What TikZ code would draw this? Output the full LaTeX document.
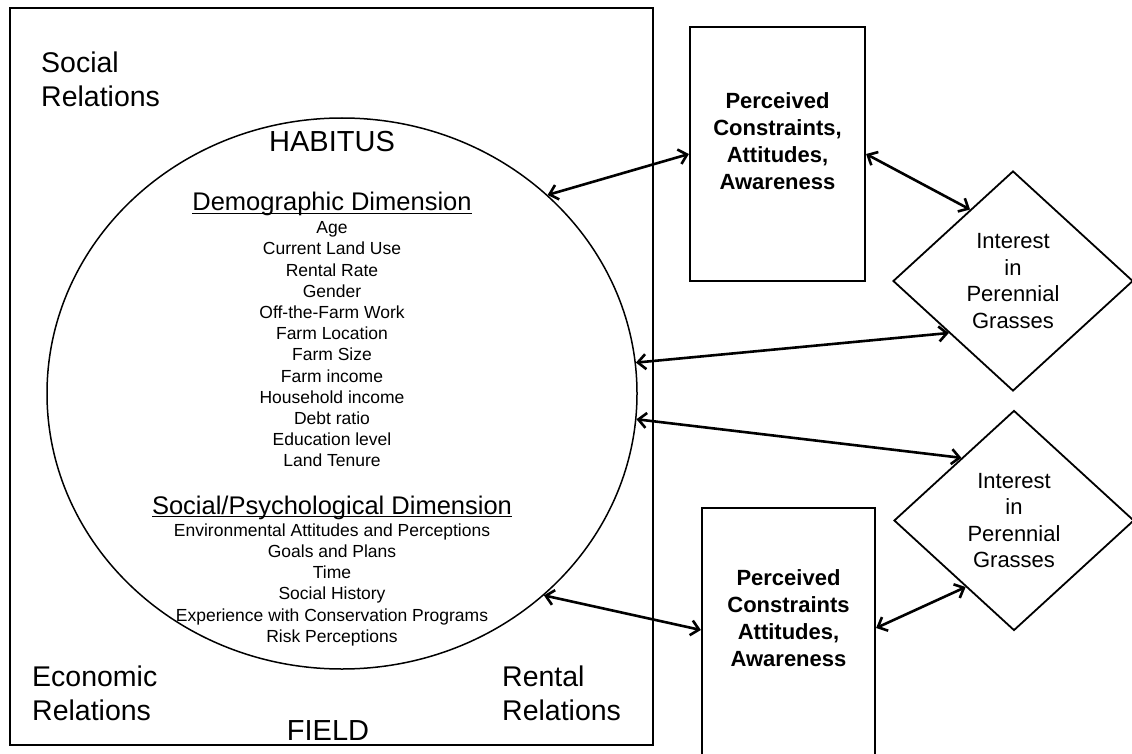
\documentclass[tikz,border=0pt]{standalone}
\usepackage{fontspec}
\setmainfont{Liberation Sans}
\usetikzlibrary{shapes.geometric,arrows.meta}
\newcommand\myul[1]{\setbox0\hbox{#1}\rlap{\rule[-3pt]{\wd0}{1.2pt}}\box0}
\begin{document}
\begin{tikzpicture}[x=1pt,y=-1pt,
  frame/.style={draw, line width=2.2pt, inner sep=0pt},
  pbox/.style={draw, line width=2.2pt, rectangle, inner sep=0pt},
  dia/.style={draw, diamond, line width=1.8pt, inner sep=0pt, minimum width=240pt, minimum height=220pt, align=center, font=\fontsize{22}{26.5}\selectfont},
  link/.style={line width=2.6pt, {Straight Barb[length=8pt,width=15pt]}-{Straight Barb[length=8pt,width=15pt]}},
  corner/.style={inner sep=0pt, align=left, font=\fontsize{28.5}{34}\selectfont},
  bigtxt/.style={inner sep=0pt, font=\fontsize{29}{34}\selectfont},
  head/.style={inner sep=0pt, font=\fontsize{25.5}{30}\selectfont},
  items/.style={inner sep=0pt, align=center, font=\fontsize{17.5}{21.2}\selectfont},
  btxt/.style={inner sep=0pt, align=center, font=\fontsize{22}{26.8}\selectfont\bfseries}
]
\useasboundingbox (0,0) rectangle (1132,754);
\clip (0,0) rectangle (1132,754);
\node[frame, minimum width=643pt, minimum height=737pt] (field) at (331.5,376.5) {};
\node[draw, ellipse, line width=1.5pt, minimum width=590pt, minimum height=551pt, inner sep=0pt] (hab) at (342,393.5) {};
\node[corner, anchor=north west] (soc) at (41,52) {Social\\Relations};
\node[corner, anchor=north west] (eco) at (32,666) {Economic\\Relations};
\node[corner, anchor=north west] (ren) at (502,666) {Rental\\Relations};
\node[bigtxt, anchor=base] (fld) at (328,740) {FIELD};
\node[bigtxt, anchor=base] (habt) at (332,152) {HABITUS};
\node[head, anchor=base] (dd) at (332,211) {\myul{Demographic Dimension}};
\node[items, anchor=north] (ddl) at (332,221.5) {Age\\Current Land Use\\Rental Rate\\Gender\\Off-the-Farm Work\\Farm Location\\Farm Size\\Farm income\\Household income\\Debt ratio\\Education level\\Land Tenure};
\node[head, anchor=base] (sd) at (332,514) {\myul{Social/Psychological Dimension}};
\node[items, anchor=north] (sdl) at (332,523.5) {Environmental Attitudes and Perceptions\\Goals and Plans\\Time\\Social History\\Experience with Conservation Programs\\Risk Perceptions};
\node[pbox, minimum width=175pt, minimum height=254pt] (pc1) at (777.5,154) {};
\node[btxt] (pc1t) at (777.5,141) {Perceived\\Constraints,\\Attitudes,\\Awareness};
\node[pbox, minimum width=173pt, minimum height=262pt] (pc2) at (788.5,639) {};
\node[btxt] (pc2t) at (788.5,618) {Perceived\\Constraints\\Attitudes,\\Awareness};
\node[dia] (ig1) at (1013,281) {Interest\\in\\Perennial\\Grasses};
\node[dia] (ig2) at (1014,520.5) {Interest\\in\\Perennial\\Grasses};
\draw[link] (hab.44.4) -- (pc1.west);
\draw[link] (pc1.east) -- (ig1.121.1);
\draw[link] (hab.6.1) -- (ig1.219.4);
\draw[link] (hab.-5.9) -- (ig2.130.4);
\draw[link] (hab.-45) -- ([yshift=9pt]pc2.west);
\draw[link] ([yshift=11pt]pc2.east) -- (ig2.234.8);
\end{tikzpicture}
\end{document}
